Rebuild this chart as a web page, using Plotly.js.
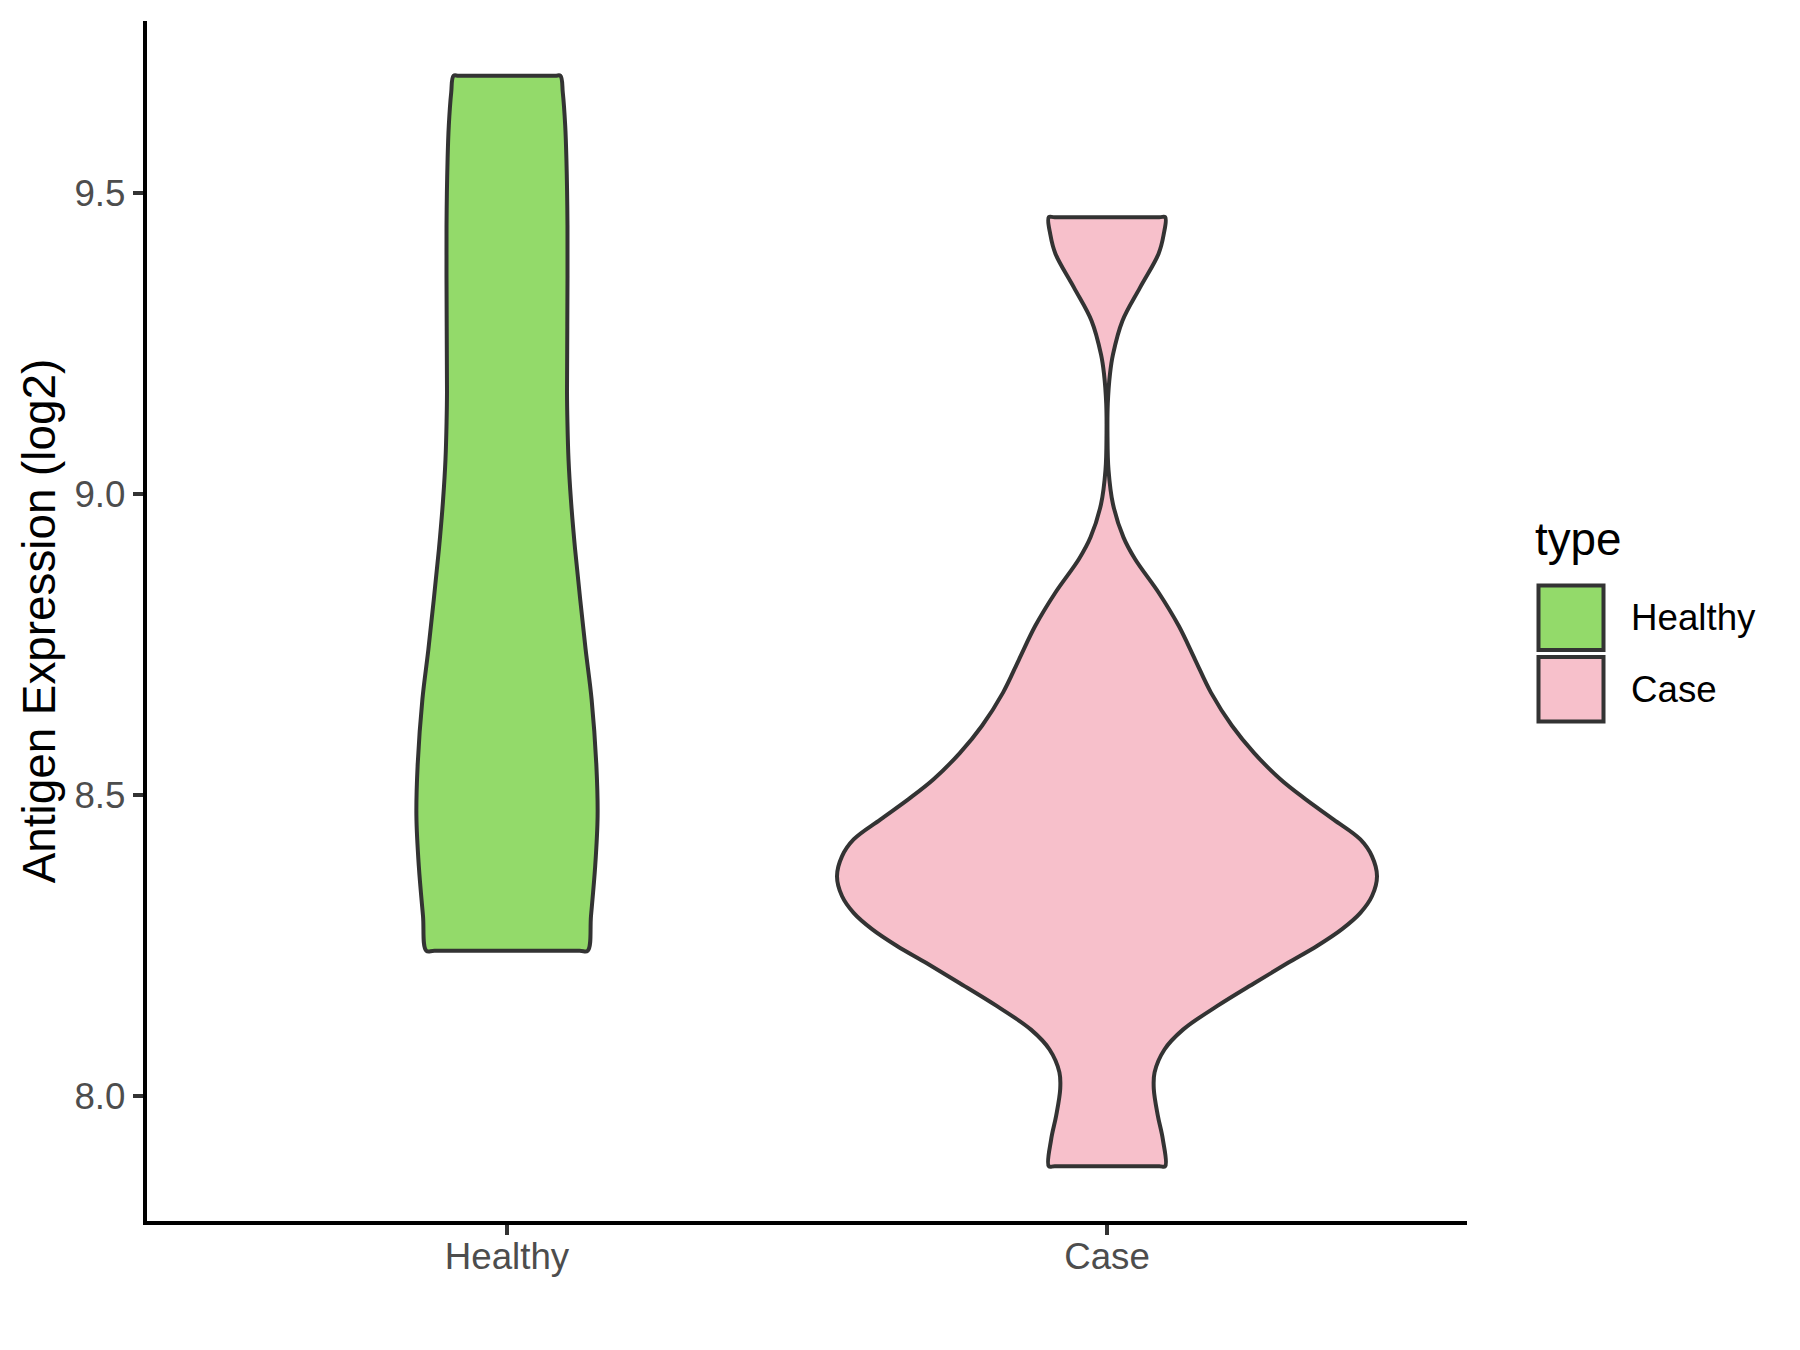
<!DOCTYPE html>
<html>
<head>
<meta charset="utf-8">
<script src="https://cdn.plot.ly/plotly-3.0.1.min.js"></script>
<style>html,body{margin:0;padding:0;background:#ffffff;}</style>
</head>
<body>
<div id="chart" style="width:1800px;height:1350px;"></div>
<script>
// ---------- data ----------
const categories = ['Healthy', 'Case'];
const fillColors = ['#93DA6A', '#F7C0CB'];

// violin outline: y value and half-width (in category units) of the density
const healthyY = [8.241, 8.299, 8.382, 8.465, 8.548, 8.659, 8.742, 8.825, 8.908, 8.991, 9.058, 9.120, 9.169, 9.279, 9.446, 9.557, 9.612, 9.667, 9.695];
const healthyHalfWidth = [0.1345, 0.140, 0.147, 0.151, 0.149, 0.141, 0.131, 0.122, 0.1135, 0.1065, 0.1025, 0.1007, 0.1000, 0.1005, 0.1008, 0.099, 0.097, 0.093, 0.089];

const caseY = [7.883, 7.928, 7.967, 8.011, 8.039, 8.077, 8.110, 8.149, 8.188, 8.221, 8.249, 8.277, 8.304, 8.332, 8.365, 8.398, 8.426, 8.459, 8.493, 8.526, 8.570, 8.615, 8.670, 8.725, 8.781, 8.836, 8.892, 8.928, 8.983, 9.040, 9.100, 9.150, 9.200, 9.232, 9.288, 9.343, 9.399, 9.430, 9.460];
const caseHalfWidth = [0.097, 0.093, 0.0847, 0.078, 0.0793, 0.0958, 0.1267, 0.1833, 0.2467, 0.3017, 0.350, 0.3917, 0.4223, 0.4417, 0.450, 0.4417, 0.4223, 0.3778, 0.3307, 0.289, 0.245, 0.2083, 0.1733, 0.1467, 0.1195, 0.0862, 0.0467, 0.0275, 0.010, 0.0025, 0.0008, 0.0013, 0.005, 0.010, 0.0258, 0.055, 0.0858, 0.0942, 0.097];

const yTickVals = [8.0, 8.5, 9.0, 9.5];
const yTickText = ['8.0', '8.5', '9.0', '9.5'];
const yAxisTitle = 'Antigen Expression (log2)';
const legendTitle = 'type';

// ---------- layout constants ----------
const FONT = 'Liberation Sans, Arial, Helvetica, sans-serif';
const W = 1800, H = 1350;
const M = {l: 147, r: 333, t: 21, b: 129};
const PW = W - M.l - M.r, PH = H - M.t - M.b;
const px2x = p => (p - M.l) / PW;
const py2y = p => (M.t + PH - p) / PH;
const OUTLINE = '#333333';

function violinOutline(center, ys, ws) {
  const n = ys.length;
  const xs = [], yy = [];
  xs.push(center); yy.push(ys[0]);
  xs.push(center + 0.9 * ws[0]); yy.push(ys[0]);
  for (let i = 0; i < n; i++) { xs.push(center + ws[i]); yy.push(ys[i]); }
  xs.push(center + 0.9 * ws[n - 1]); yy.push(ys[n - 1]);
  xs.push(center - 0.9 * ws[n - 1]); yy.push(ys[n - 1]);
  for (let i = n - 1; i >= 0; i--) { xs.push(center - ws[i]); yy.push(ys[i]); }
  xs.push(center - 0.9 * ws[0]); yy.push(ys[0]);
  xs.push(center); yy.push(ys[0]);   // close the outline
  return {x: xs, y: yy};
}

const groups = [
  {ys: healthyY, ws: healthyHalfWidth},
  {ys: caseY, ws: caseHalfWidth}
];

const traces = groups.map((g, i) => {
  const o = violinOutline(i + 1, g.ys, g.ws);
  return {
    type: 'scatter', mode: 'lines', name: categories[i],
    x: o.x, y: o.y, fill: 'toself', fillcolor: fillColors[i],
    line: {color: OUTLINE, width: 4, shape: 'spline', smoothing: 1, simplify: false},
    showlegend: false, hoverinfo: 'skip'
  };
});

// ---------- manual ggplot-style legend ----------
const keyX0 = 1538.5, keyX1 = 1603.5;
const keyTops = [585.5, 657];
const keySize = 64.5;
const shapes = categories.map((c, i) => ({
  type: 'rect', xref: 'paper', yref: 'paper', layer: 'above',
  x0: px2x(keyX0), x1: px2x(keyX1),
  y0: py2y(keyTops[i] + keySize), y1: py2y(keyTops[i]),
  fillcolor: fillColors[i], line: {color: OUTLINE, width: 4}
}));

const annotations = [
  {text: legendTitle, xref: 'paper', yref: 'paper', x: px2x(1533), y: py2y(539),
   xanchor: 'left', yanchor: 'middle', showarrow: false,
   font: {family: FONT, size: 45.8, color: '#000000'}}
].concat(categories.map((c, i) => ({
  text: c, xref: 'paper', yref: 'paper', x: px2x(1629), y: py2y(keyTops[i] + keySize / 2),
  xanchor: 'left', yanchor: 'middle', showarrow: false,
  font: {family: FONT, size: 36.7, color: '#000000'}
})));

const layout = {
  width: W, height: H,
  margin: M,
  paper_bgcolor: '#ffffff', plot_bgcolor: '#ffffff',
  showlegend: false,
  font: {family: FONT},
  xaxis: {
    range: [0.4, 2.6], tickvals: [1, 2], ticktext: categories,
    showline: true, linecolor: '#000000', linewidth: 4.2,
    ticks: 'outside', ticklen: 10, tickwidth: 4, tickcolor: OUTLINE,
    ticklabelstandoff: -10,
    tickfont: {family: FONT, size: 36.7, color: '#4D4D4D'},
    showgrid: false, zeroline: false, fixedrange: true
  },
  yaxis: {
    range: [7.792, 9.786], tickvals: yTickVals, ticktext: yTickText,
    showline: true, linecolor: '#000000', linewidth: 4.2,
    ticks: 'outside', ticklen: 10, tickwidth: 4, tickcolor: OUTLINE,
    tickfont: {family: FONT, size: 36.7, color: '#4D4D4D'},
    showgrid: false, zeroline: false, fixedrange: true,
    title: {text: yAxisTitle, font: {family: FONT, size: 45.8, color: '#000000'}, standoff: 6}
  },
  shapes: shapes,
  annotations: annotations
};

Plotly.newPlot('chart', traces, layout, {staticPlot: true, displayModeBar: false});
</script>
</body>
</html>
